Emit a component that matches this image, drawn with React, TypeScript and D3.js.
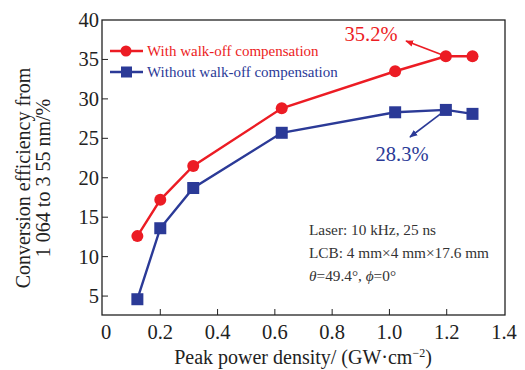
import { useEffect, useRef } from "react";
import * as d3 from "d3";

const power = [0.12, 0.2, 0.315, 0.624, 1.02, 1.197, 1.29];
const withComp = [12.6, 17.2, 21.5, 28.8, 33.5, 35.4, 35.4];
const withoutComp = [4.6, 13.6, 18.7, 25.7, 28.3, 28.6, 28.1];
const xTicks = [0, 0.2, 0.4, 0.6, 0.8, 1.0, 1.2, 1.4];
const yTicks = [5, 10, 15, 20, 25, 30, 35, 40];
const seriesNames = ["With walk-off compensation", "Without walk-off compensation"];
const notes = ["Laser: 10 kHz, 25 ns", "LCB: 4 mm\u00d74 mm\u00d717.6 mm"];

const RED = "#ec1c24";
const BLUE = "#2b3a97";

export default function App() {
    const ref = useRef<SVGSVGElement>(null);

    useEffect(() => {
        const width = 525;
        const height = 370;
        const svg = d3.select(ref.current)
            .attr("width", width)
            .attr("height", height)
            .style("position", "absolute")
            .style("left", 0)
            .style("top", 0)
            .style("font-family", "'Liberation Serif', 'DejaVu Serif', serif");

        svg.selectAll("*").remove();

        const left = 102, right = 505, top = 20, bottom = 315;

        const x = d3.scaleLinear().domain([0, 1.4]).range([left + 1, right - 1]);
        const y = d3.scaleLinear().domain([2.6, 40]).range([bottom, top]);

        // frame
        svg.append("rect")
            .attr("x", left).attr("y", top)
            .attr("width", right - left).attr("height", bottom - top)
            .attr("fill", "none").attr("stroke", "#222").attr("stroke-width", 1.3);

        // ticks (inward)
        svg.selectAll(".xt").data(xTicks.slice(1, -1)).enter().append("line")
            .attr("x1", d => x(d)).attr("x2", d => x(d))
            .attr("y1", bottom).attr("y2", bottom - 6)
            .attr("stroke", "#222").attr("stroke-width", 1);
        svg.selectAll(".yt").data(yTicks.slice(0, -1)).enter().append("line")
            .attr("x1", left).attr("x2", left + 6)
            .attr("y1", d => y(d)).attr("y2", d => y(d))
            .attr("stroke", "#222").attr("stroke-width", 1);

        svg.selectAll(".xl").data(xTicks).enter().append("text")
            .attr("x", d => x(d) + (d === 0 ? 3 : 0)).attr("y", bottom + 24)
            .attr("text-anchor", "middle").attr("font-size", 20.5).attr("fill", "#222")
            .text(d => d === 0 ? "0" : d.toFixed(1));
        svg.selectAll(".yl").data(yTicks).enter().append("text")
            .attr("x", left - 3).attr("y", d => y(d) + 7)
            .attr("text-anchor", "end").attr("font-size", 20.5).attr("fill", "#222")
            .text(d => d);

        // axis titles
        const xt = svg.append("text")
            .attr("x", 303).attr("y", 364)
            .attr("text-anchor", "middle").attr("font-size", 20).attr("fill", "#222");
        xt.append("tspan").text("Peak power density/ (GW\u00b7cm");
        xt.append("tspan").attr("baseline-shift", "super").attr("font-size", 12).text("\u22122");
        xt.append("tspan").text(")");

        const yt = svg.append("text")
            .attr("transform", "translate(30,178) rotate(-90)")
            .attr("text-anchor", "middle").attr("font-size", 20).attr("fill", "#222");
        yt.append("tspan").attr("x", 0).attr("y", 0).text("Conversion efficiency from");
        yt.append("tspan").attr("x", 0).attr("y", 20).text("1 064 to 3 55 nm/%");

        const line = d3.line<number>()
            .x((_, i) => x(power[i]))
            .y(d => y(d));

        // arrows
        const defs = svg.append("defs");
        [["ar", RED], ["ab", BLUE]].forEach(([id, c]) => {
            defs.append("marker").attr("id", id)
                .attr("viewBox", "0 0 10 10").attr("refX", 9).attr("refY", 5)
                .attr("markerWidth", 5).attr("markerHeight", 5).attr("orient", "auto-start-reverse")
                .attr("markerUnits", "strokeWidth")
                .append("path").attr("d", "M0,1 L10,5 L0,9 Z").attr("fill", c);
        });
        svg.append("line")
            .attr("x1", x(power[5])).attr("y1", y(withComp[5]))
            .attr("x2", 406).attr("y2", 41)
            .attr("stroke", RED).attr("stroke-width", 1.6).attr("marker-end", "url(#ar)");
        svg.append("line")
            .attr("x1", x(power[5])).attr("y1", y(withoutComp[5]))
            .attr("x2", 410).attr("y2", 137)
            .attr("stroke", BLUE).attr("stroke-width", 1.6).attr("marker-end", "url(#ab)");

        svg.append("path").datum(withComp)
            .attr("fill", "none").attr("stroke", RED).attr("stroke-width", 2.4)
            .attr("d", line);
        svg.append("path").datum(withoutComp)
            .attr("fill", "none").attr("stroke", BLUE).attr("stroke-width", 2.4)
            .attr("d", line);

        svg.selectAll(".cr").data(withComp).enter().append("circle")
            .attr("cx", (_, i) => x(power[i])).attr("cy", d => y(d))
            .attr("r", 6).attr("fill", RED);
        svg.selectAll(".sq").data(withoutComp).enter().append("rect")
            .attr("x", (_, i) => x(power[i]) - 6).attr("y", d => y(d) - 6)
            .attr("width", 12).attr("height", 12).attr("fill", BLUE);

        // value labels
        svg.append("text").attr("x", 371).attr("y", 41)
            .attr("text-anchor", "middle").attr("font-size", 20.5).attr("fill", RED)
            .text("35.2%");
        svg.append("text").attr("x", 402).attr("y", 161)
            .attr("text-anchor", "middle").attr("font-size", 20.5).attr("fill", BLUE)
            .text("28.3%");

        // legend
        const colors = [RED, BLUE];
        seriesNames.forEach((name, i) => {
            const ly = 51 + i * 21;
            svg.append("line").attr("x1", 110).attr("x2", 143).attr("y1", ly).attr("y2", ly)
                .attr("stroke", colors[i]).attr("stroke-width", 2.4);
            if (i === 0) {
                svg.append("circle").attr("cx", 126).attr("cy", ly).attr("r", 5.5).attr("fill", RED);
            } else {
                svg.append("rect").attr("x", 121).attr("y", ly - 5.5)
                    .attr("width", 11).attr("height", 11).attr("fill", BLUE);
            }
            svg.append("text").attr("x", 147).attr("y", ly + 5)
                .attr("font-size", 15).attr("fill", colors[i]).text(name);
        });

        // notes
        notes.forEach((n, i) => {
            svg.append("text").attr("x", 309).attr("y", 235 + i * 23)
                .attr("font-size", 15.3).attr("fill", "#333").text(n);
        });
        const t3 = svg.append("text").attr("x", 309).attr("y", 281)
            .attr("font-size", 15.3).attr("fill", "#333");
        t3.append("tspan").attr("font-style", "italic").text("\u03b8");
        t3.append("tspan").text("=49.4\u00b0, ");
        t3.append("tspan").attr("font-style", "italic").text("\u03d5");
        t3.append("tspan").text("=0\u00b0");
    }, []);

    return <svg ref={ref}></svg>;
}
